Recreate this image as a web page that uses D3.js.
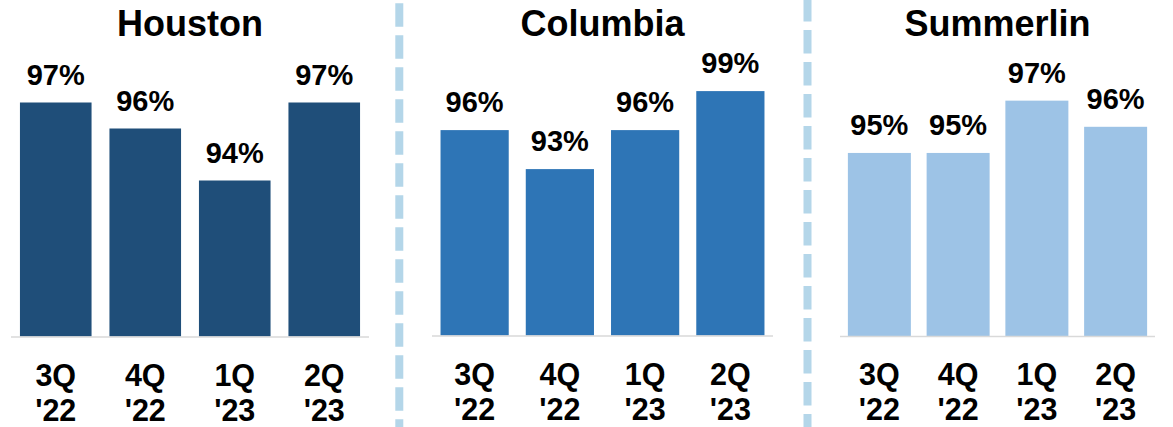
<!DOCTYPE html>
<html>
<head>
<meta charset="utf-8">
<script src="https://cdn.jsdelivr.net/npm/d3@7/dist/d3.min.js"></script>
<style>
  html, body { margin: 0; padding: 0; background: #ffffff; }
  svg { display: block; }
  text { font-family: Arial, "Liberation Sans", sans-serif; font-weight: bold; fill: #000; }
</style>
</head>
<body>
<svg id="chart" width="1173" height="427"></svg>
<script>
// Quarterly occupancy by region
const quarters = ["3Q '22", "4Q '22", "1Q '23", "2Q '23"];
const regions = ["Houston", "Columbia", "Summerlin"];
const houstonValues = [97, 96, 94, 97];
const columbiaValues = [96, 93, 96, 99];
const summerlinValues = [95, 95, 97, 96];

// Panel layout: x extent of the baseline, baseline position, value floor and pixels per point
const panels = [
  { name: regions[0], values: houstonValues,  color: "#1f4e79", x0: 11,  x1: 369,  base: 336.5, floor: 88,   ppu: 26 },
  { name: regions[1], values: columbiaValues, color: "#2e75b6", x0: 432, x1: 773,  base: 335.5, floor: 80.2, ppu: 13 },
  { name: regions[2], values: summerlinValues, color: "#9dc3e6", x0: 840, x1: 1155, base: 336,   floor: 88,   ppu: 26.15 }
];

const svg = d3.select("#chart");

// Dashed dividers between panels
const dividers = [{ x: 399.3, offset: -3.3 }, { x: 807.5, offset: 2 }];
svg.selectAll("line.divider")
  .data(dividers)
  .join("line")
  .attr("class", "divider")
  .attr("x1", d => d.x).attr("x2", d => d.x)
  .attr("y1", 0).attr("y2", 427)
  .attr("stroke", "#b4d6e9")
  .attr("stroke-width", 8)
  .attr("stroke-dasharray", "23.5 8.5")
  .attr("stroke-dashoffset", d => d.offset);

panels.forEach(p => {
  const g = svg.append("g");
  const data = quarters.map((q, i) => ({ q, v: p.values[i] }));

  const x = d3.scaleBand()
    .domain(quarters)
    .range([p.x0, p.x1])
    .paddingInner(0.2)
    .paddingOuter(0.1);

  const top = 100;
  const y = d3.scaleLinear()
    .domain([p.floor, top])
    .range([p.base, p.base - (top - p.floor) * p.ppu]);

  // Title
  g.append("text")
    .attr("x", (p.x0 + p.x1) / 2)
    .attr("y", 36)
    .attr("text-anchor", "middle")
    .style("font-size", "36px")
    .text(p.name);

  // Bars
  g.selectAll("rect")
    .data(data)
    .join("rect")
    .attr("x", d => x(d.q))
    .attr("width", x.bandwidth())
    .attr("y", d => y(d.v))
    .attr("height", d => y(p.floor) - y(d.v))
    .attr("fill", p.color);

  // Value labels
  g.selectAll("text.val")
    .data(data)
    .join("text")
    .attr("class", "val")
    .attr("x", d => x(d.q) + x.bandwidth() / 2)
    .attr("y", d => y(d.v) - 18)
    .attr("text-anchor", "middle")
    .style("font-size", "29px")
    .text(d => d.v + "%");

  // Baseline
  g.append("line")
    .attr("x1", p.x0).attr("x2", p.x1)
    .attr("y1", p.base + 0.5).attr("y2", p.base + 0.5)
    .attr("stroke", "#d9d9d9")
    .attr("stroke-width", 1.5);

  // Category labels on two lines
  const ax = g.append("g")
    .attr("transform", `translate(0,${p.base})`)
    .call(d3.axisBottom(x).tickSize(0).tickPadding(0));
  ax.select(".domain").remove();
  ax.selectAll(".tick text").each(function(d) {
    const parts = d.split(" ");
    const t = d3.select(this)
      .attr("y", 0).attr("dy", null)
      .attr("font-family", null).attr("font-size", null)
      .style("font-size", "30.5px")
      .attr("fill", "#000")
      .text(null);
    t.append("tspan").attr("x", 0).attr("y", 49).text(parts[0]);
    t.append("tspan").attr("x", 0).attr("y", 84).text(parts[1]);
  });
});
</script>
</body>
</html>
